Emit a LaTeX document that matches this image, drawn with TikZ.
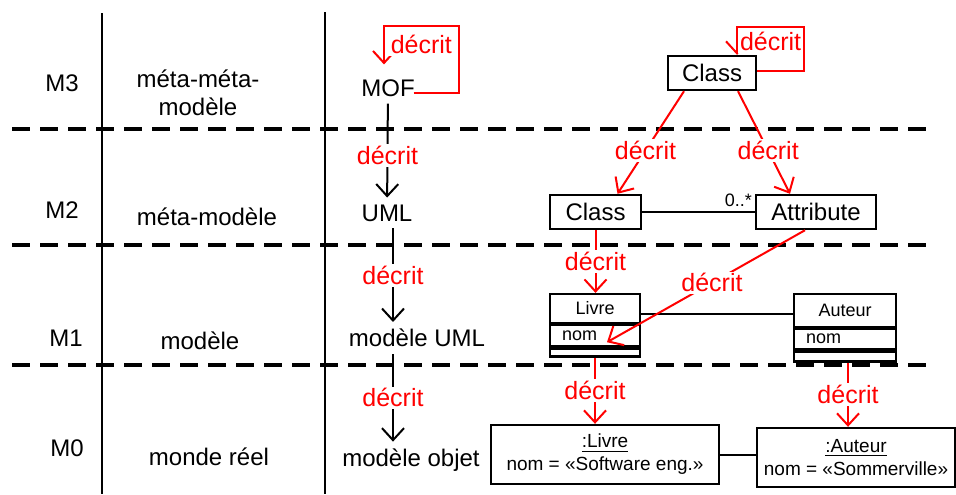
\documentclass[tikz,border=0pt]{standalone}
\usepackage{fontspec}
\setmainfont{Liberation Sans}
\usetikzlibrary{arrows.meta,positioning}

\tikzset{
  lvl/.style={font=\fontsize{12}{14}\selectfont, align=center},
  cls/.style={draw, line width=1.2pt, font=\fontsize{12}{14}\selectfont, minimum height=17pt, inner sep=0pt},
  uhead/.style={draw, line width=1.1pt, font=\fontsize{9}{10}\selectfont, inner sep=0pt},
  uattr/.style={draw, line width=1.1pt, font=\fontsize{9}{10}\selectfont, inner xsep=6pt, inner ysep=0pt, align=left},
  uops/.style={draw, line width=1.1pt, inner sep=0pt},
  obj/.style={draw, line width=1.2pt, font=\fontsize{9.5}{11.5}\selectfont, align=center, inner sep=0pt, minimum height=29.5pt},
  sep/.style={dash pattern=on 9pt off 5pt, line width=2pt},
  col/.style={line width=1.3pt},
  assoc/.style={line width=1pt},
  decr/.style={red, line width=1pt, -{Straight Barb[length=6pt,width=11pt]}},
  meta/.style={black, line width=1pt, -{Straight Barb[length=6pt,width=11pt]}},
  lbl/.style={text=red, fill=white, font=\fontsize{12.5}{14}\selectfont, inner sep=1pt}
}

\begin{document}
\begin{tikzpicture}[x=0.5pt, y=-0.5pt]
  \useasboundingbox (0,0) rectangle (956,494);

  \draw[col] (102,13) -- (102,494);
  \draw[col] (325,12) -- (325,494);
  \foreach \y in {129,245,365}
    \draw[sep] (12,\y) -- (930,\y);

  % levels
  \node[lvl] (m3) at (62,83) {M3};
  \node[lvl] (m2) at (62,210) {M2};
  \node[lvl] (m1) at (66,338) {M1};
  \node[lvl] (m0) at (67,448) {M0};
  \node[lvl] (mmm) at (198,93) {méta-méta-\\modèle};
  \node[lvl] (mm) at (207,217) {méta-modèle};
  \node[lvl] (mod) at (200,341) {modèle};
  \node[lvl] (mr) at (209,457) {monde réel};

  \node[lvl] (mof) at (388,88) {MOF};
  \node[lvl] (uml) at (387,213) {UML};
  \node[lvl] (muml) at (417,338) {modèle UML};
  \node[lvl] (mobj) at (411,460) {modèle objet};

  \draw[meta] (mof) -- node[lbl, pos=0.55] {décrit} (uml);
  \draw[meta] ([xshift=3pt]uml.south) -- node[lbl] {décrit} ([xshift=3pt]uml.south |- muml.north);
  \draw[meta] ([xshift=-12pt]muml.south) -- node[lbl] {décrit} ([xshift=-12pt]muml.south |- mobj.north);
  \draw[decr] ([xshift=-4pt,yshift=-2.5pt]mof.east) -- ++(45,0) -- ++(0,-67)
    -| node[lbl, below=3pt, pos=0.25] {décrit} ([xshift=-2pt,yshift=4pt]mof.north);

  % class diagrams
  \node[cls, minimum width=44pt] (ctop) at (712,73) {Class};
  \node[cls, minimum width=45.5pt] (cm2) at (595.5,212) {Class};
  \node[cls, minimum width=60pt] (attr) at (816,212) {Attribute};

  \node[uhead, minimum width=45pt, minimum height=14.5pt] (livre) at (595,308.5) {Livre};
  \node[uattr, text width=33pt, minimum height=10.5pt, below=0pt of livre] (lnom) {nom};
  \node[uops, minimum width=45pt, minimum height=4pt, below=0pt of lnom] (lops) {};
  \node[uhead, minimum width=51pt, minimum height=16.5pt] (auteur) at (845,310.5) {Auteur};
  \node[uattr, text width=39pt, minimum height=10pt, below=0pt of auteur] (anom) {nom};
  \node[uops, minimum width=51pt, minimum height=5pt, below=0pt of anom] (aops) {};

  \node[obj, minimum width=114pt] (olivre) at (605,454.5) {\underline{:Livre}\\nom = «Software eng.»};
  \node[obj, minimum width=99pt] (oauteur) at (856,457.5) {\underline{:Auteur}\\nom = «Sommerville»};

  \draw[assoc] (cm2) -- node[pos=1, above left, inner sep=1pt, yshift=1pt, font=\fontsize{9}{10}\selectfont] {0..*} (attr);
  \draw[assoc] ([yshift=-2.5pt]livre.east) -- ([yshift=-2.5pt]livre.east -| auteur.west);
  \draw[assoc] (olivre) -- (olivre -| oauteur.west);

  \draw[decr] ([yshift=1pt]ctop.east) -- ++(47,0) -- ++(0,-44)
    -| node[lbl, below=1pt, pos=0.25] {décrit} ([xshift=12.5pt]ctop.north);
  \draw[decr] ([xshift=-14pt]ctop.south) -- node[lbl, pos=0.58] {décrit} ([xshift=11pt]cm2.north);
  \draw[decr] ([xshift=13pt]ctop.south) -- node[lbl, pos=0.58] {décrit} ([xshift=-13pt]attr.north);
  \draw[decr] (cm2.south) -- node[lbl] {décrit} (cm2.south |- livre.north);
  \draw[decr] ([xshift=-5.5pt]attr.south) -- node[lbl, pos=0.47] {décrit} ([xshift=6pt,yshift=-3.25pt]lnom.center);
  \draw[decr] (lops.south) -- node[lbl] {décrit} (lops.south |- olivre.north);
  \draw[decr] ([xshift=1.5pt]aops.south) -- node[lbl] {décrit} ([xshift=1.5pt]aops.south |- oauteur.north);
\end{tikzpicture}
\end{document}
